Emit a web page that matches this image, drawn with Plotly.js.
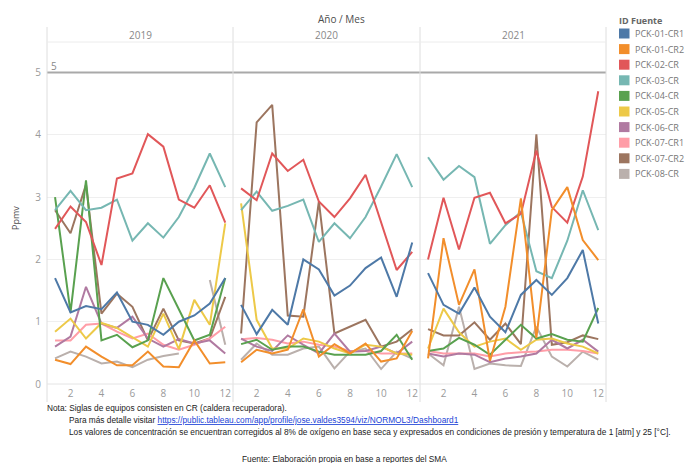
<!DOCTYPE html>
<html>
<head>
<meta charset="utf-8">
<script src="https://cdn.plot.ly/plotly-3.0.1.min.js"></script>
<style>html,body{margin:0;padding:0;background:#fff;}</style>
</head>
<body>
<div id="chart" style="width:687px;height:463px;"></div>
<script>
// ---- data ----
const years = ['2019', '2020', '2021'];
const months = [1, 2, 3, 4, 5, 6, 7, 8, 9, 10, 11, 12];
const monthTicks = [2, 4, 6, 8, 10, 12];
const yTicks = [0, 1, 2, 3, 4, 5];
const limitValue = 5;

const sources = ['PCK-01-CR1', 'PCK-01-CR2', 'PCK-02-CR', 'PCK-03-CR', 'PCK-04-CR',
                 'PCK-05-CR', 'PCK-06-CR', 'PCK-07-CR1', 'PCK-07-CR2', 'PCK-08-CR'];
const colors = ['#4e79a7', '#f28e2b', '#e15759', '#76b7b2', '#59a14f',
                '#edc948', '#b07aa1', '#ff9da7', '#9c755f', '#bab0ac'];

// values per source: [2019 months 1-12], [2020], [2021]
const pck01cr1 = [
  [1.70, 1.15, 1.25, 1.20, 1.47, 1.00, 0.95, 0.79, 1.00, 1.10, 1.29, 1.70],
  [1.27, 0.80, 1.19, 0.95, 2.00, 1.84, 1.42, 1.58, 1.86, 2.03, 1.40, 2.27],
  [1.78, 1.27, 1.13, 1.55, 1.08, 0.83, 1.43, 1.67, 1.43, 1.70, 2.15, 0.97]];
const pck01cr2 = [
  [0.39, 0.32, 0.60, 0.44, 0.30, 0.30, 0.52, 0.28, 0.27, 0.70, 0.33, 0.35],
  [0.35, 0.55, 0.49, 0.55, 1.20, 0.44, 0.64, 0.49, 0.65, 0.36, 0.41, 0.85],
  [0.41, 2.34, 1.27, 1.84, 0.37, 1.24, 2.98, 0.74, 2.79, 3.16, 2.31, 1.99]];
const pck02cr = [
  [2.49, 2.85, 2.60, 1.91, 3.30, 3.38, 4.01, 3.81, 2.96, 2.83, 3.19, 2.59],
  [3.14, 2.95, 3.70, 3.42, 3.60, 2.93, 2.68, 2.98, 3.36, 2.60, 1.83, 2.12],
  [2.00, 2.99, 2.16, 2.99, 3.07, 2.58, 2.73, 3.75, 2.84, 2.59, 3.33, 4.70]];
const pck03cr = [
  [2.79, 3.10, 2.79, 2.83, 2.96, 2.30, 2.58, 2.35, 2.68, 3.15, 3.70, 3.16],
  [2.79, 3.09, 2.78, 2.86, 2.96, 2.28, 2.58, 2.34, 2.68, 3.17, 3.69, 3.16],
  [3.64, 3.28, 3.50, 3.32, 2.25, 2.55, 2.76, 1.81, 1.70, 2.30, 3.11, 2.47]];
const pck04cr = [
  [3.00, 1.15, 3.27, 0.70, 0.79, 0.59, 0.70, 1.70, 1.20, 0.70, 0.79, 1.70],
  [0.64, 0.71, 0.55, 0.60, 0.60, 0.52, 0.47, 0.47, 0.47, 0.53, 0.79, 0.39],
  [0.53, 0.57, 0.74, 0.63, 0.47, 0.71, 0.95, 0.73, 0.80, 0.71, 0.68, 1.22]];
const pck05cr = [
  [0.84, 1.05, 0.73, 0.98, 0.90, 0.75, 0.60, 1.13, 0.56, 1.35, 0.95, 2.58],
  [2.90, 1.03, 0.57, 0.57, 0.73, 0.68, 0.57, 0.49, 0.63, 0.60, 0.49, 0.47],
  [0.57, 1.21, 0.83, 0.60, 0.68, 0.73, 0.55, 0.71, 0.73, 0.65, 0.60, 0.49]];
const pck06cr = [
  [0.60, 0.76, 1.56, 0.97, 0.90, 1.08, 0.73, 0.60, 0.72, 0.65, 0.70, 0.49],
  [0.73, 0.60, 0.53, 0.78, 0.63, 0.49, 0.81, 0.52, 0.53, 0.60, 0.49, 0.68],
  [0.49, 0.44, 0.49, 0.47, 0.35, 0.41, 0.44, 0.49, 0.71, 0.57, 0.71, 0.52]];
const pck07cr1 = [
  [0.70, 0.70, 0.95, 0.97, 0.84, 0.73, 0.81, 0.63, 0.55, 0.63, 0.73, 0.92],
  [0.72, 0.74, 0.71, 0.65, 0.68, 0.63, 0.60, 0.53, 0.53, 0.49, 0.49, 0.49],
  [0.53, 0.49, 0.49, 0.49, 0.44, 0.49, 0.51, 0.52, 0.55, 0.55, 0.53, 0.49]];
const pck07cr2 = [
  [2.79, 2.42, 3.20, 1.13, 1.45, 1.24, 0.70, 1.21, 0.70, 0.65, 0.73, 1.40],
  [0.81, 4.20, 4.48, 1.10, 1.08, 2.93, 0.81, 0.92, 1.03, 0.60, 0.68, 0.88],
  [0.88, 0.78, 0.78, 0.99, 0.71, 0.97, 0.64, 4.01, 0.63, 0.67, 0.78, 0.72]];
const pck08cr = [
  [0.41, 0.52, 0.44, 0.33, 0.36, 0.27, 0.39, 0.45, 0.49, null, 1.67, 0.63],
  [0.39, 0.65, 0.47, 0.47, 0.57, 0.60, 0.25, 0.52, 0.57, 0.24, 0.52, 0.41],
  [0.49, 0.30, 1.24, 0.24, 0.33, 0.30, 0.29, 0.92, 0.44, 0.28, 0.52, 0.39]];

const seriesValues = [pck01cr1, pck01cr2, pck02cr, pck03cr, pck04cr,
                      pck05cr, pck06cr, pck07cr1, pck07cr2, pck08cr];

// ---- layout helpers (pixel -> paper) ----
const W = 687, H = 463;
const px = x => x / W;
const py = y => 1 - y / H;
const panelEdges = [47, 233, 420, 606];
const plotTop = 42, plotBottom = 384;

const traces = [];
const axisIds = ['', '2', '3'];
// draw in reverse legend order so first sources lie on top
for (let s = sources.length - 1; s >= 0; s--) {
  for (let yi = 0; yi < years.length; yi++) {
    traces.push({
      type: 'scatter', mode: 'lines',
      x: months, y: seriesValues[s][yi],
      xaxis: 'x' + axisIds[yi], yaxis: 'y' + axisIds[yi],
      name: sources[s], line: {color: colors[s], width: 2},
      connectgaps: false, hoverinfo: 'skip', showlegend: false
    });
  }
}

const tickFont = {family: 'Open Sans, sans-serif', size: 10, color: '#9a9a9a'};
const layout = {
  width: W, height: H,
  margin: {l: 0, r: 0, t: 0, b: 0},
  paper_bgcolor: '#ffffff', plot_bgcolor: 'rgba(0,0,0,0)',
  showlegend: false,
  font: {family: 'Open Sans, sans-serif'},
  shapes: [], annotations: []
};
for (let i = 0; i < 3; i++) {
  layout['xaxis' + axisIds[i]] = {
    domain: [px(panelEdges[i]), px(panelEdges[i + 1])],
    range: [0.48, 12.5], tickvals: monthTicks, ticktext: monthTicks.map(String),
    showgrid: false, zeroline: false, showline: false, ticks: '',
    tickfont: tickFont, anchor: 'y' + axisIds[i], ticklabelstandoff: 2
  };
  layout['yaxis' + axisIds[i]] = {
    domain: [py(plotBottom), py(plotTop)],
    range: [0, 5.49], tickvals: yTicks, ticktext: yTicks.map(String),
    showgrid: true, gridcolor: '#efefef', gridwidth: 1,
    zeroline: false, showline: false, ticks: '',
    tickfont: tickFont, anchor: 'x' + axisIds[i],
    showticklabels: i === 0, ticklabelstandoff: 5
  };
  if (i > 0) layout['yaxis' + axisIds[i]].matches = 'y';
  // year header
  layout.annotations.push({
    xref: 'paper', yref: 'paper',
    x: px((panelEdges[i] + panelEdges[i + 1]) / 2), y: py(35),
    text: years[i], showarrow: false, xanchor: 'center', yanchor: 'middle',
    font: {family: 'Open Sans, sans-serif', size: 10, color: '#888'}
  });
}

// reference limit line
layout.shapes.push({type: 'line', xref: 'paper', yref: 'y', x0: px(47), x1: px(606),
  y0: limitValue, y1: limitValue, line: {color: '#a9a9a9', width: 2}});
layout.annotations.push({xref: 'paper', yref: 'y', x: px(49), y: limitValue, yshift: 7,
  text: String(limitValue), showarrow: false, xanchor: 'left', yanchor: 'middle',
  font: {family: 'Open Sans, sans-serif', size: 10, color: '#888'}});

// panel frames
panelEdges.forEach(xp => layout.shapes.push({type: 'line', xref: 'paper', yref: 'paper',
  x0: px(xp), x1: px(xp), y0: py(27), y1: py(402), line: {color: '#dedede', width: 1}}));
layout.shapes.push({type: 'line', xref: 'paper', yref: 'paper', x0: px(47), x1: px(606),
  y0: py(plotTop), y1: py(plotTop), line: {color: '#ececec', width: 1}});
layout.shapes.push({type: 'line', xref: 'paper', yref: 'paper', x0: px(47), x1: px(606),
  y0: py(plotBottom), y1: py(plotBottom), line: {color: '#e4e4e4', width: 1}});

// titles
layout.annotations.push({xref: 'paper', yref: 'paper', x: px(341), y: py(19),
  text: 'Año / Mes', showarrow: false, xanchor: 'center', yanchor: 'middle',
  font: {family: 'Open Sans, sans-serif', size: 10, color: '#4d4d4d'}});
layout.annotations.push({xref: 'paper', yref: 'paper', x: px(15), y: py(218),
  text: 'Ppmv', textangle: -90, showarrow: false, xanchor: 'center', yanchor: 'middle',
  font: {family: 'Open Sans, sans-serif', size: 9, color: '#4d4d4d'}});

// legend (built from source list)
layout.annotations.push({xref: 'paper', yref: 'paper', x: px(617), y: py(20.5),
  text: '<b>ID Fuente</b>', showarrow: false, xanchor: 'left', yanchor: 'middle',
  font: {family: 'Open Sans, sans-serif', size: 9, color: '#666'}});
sources.forEach((name, i) => {
  const cy = 33.5 + i * 15.6;
  layout.shapes.push({type: 'rect', xref: 'paper', yref: 'paper',
    x0: px(619), x1: px(629.5), y0: py(cy - 5), y1: py(cy + 5),
    fillcolor: colors[i], line: {width: 0}});
  layout.annotations.push({xref: 'paper', yref: 'paper', x: px(632.5), y: py(cy),
    text: name, showarrow: false, xanchor: 'left', yanchor: 'middle',
    font: {family: 'Open Sans, sans-serif', size: 9, color: '#777'}});
});

// notes
const noteFont = {family: 'Liberation Sans, Arial, sans-serif', size: 8.3, color: '#222'};
const notes = [
  {x: 45, y: 408, t: 'Nota: Siglas de equipos consisten en CR (caldera recuperadora).'},
  {x: 67, y: 420, t: 'Para más detalle visitar <a href="https://public.tableau.com/app/profile/jose.valdes3594/viz/NORMOL3/Dashboard1" style="color:#1a3fd6;text-decoration:underline">https://public.tableau.com/app/profile/jose.valdes3594/viz/NORMOL3/Dashboard1</a>'},
  {x: 67, y: 432, t: 'Los valores de concentración se encuentran corregidos al 8% de oxígeno en base seca y expresados en condiciones de presión y temperatura de 1 [atm] y 25 [°C].'}
];
notes.forEach(n => layout.annotations.push({xref: 'paper', yref: 'paper', x: px(n.x), y: py(n.y),
  text: n.t, showarrow: false, xanchor: 'left', yanchor: 'middle', font: noteFont}));
layout.annotations.push({xref: 'paper', yref: 'paper', x: px(345), y: py(459),
  text: 'Fuente: Elaboración propia en base a reportes del SMA', showarrow: false,
  xanchor: 'center', yanchor: 'middle', font: noteFont});

Plotly.newPlot('chart', traces, layout, {staticPlot: true, displayModeBar: false});
</script>
</body>
</html>
